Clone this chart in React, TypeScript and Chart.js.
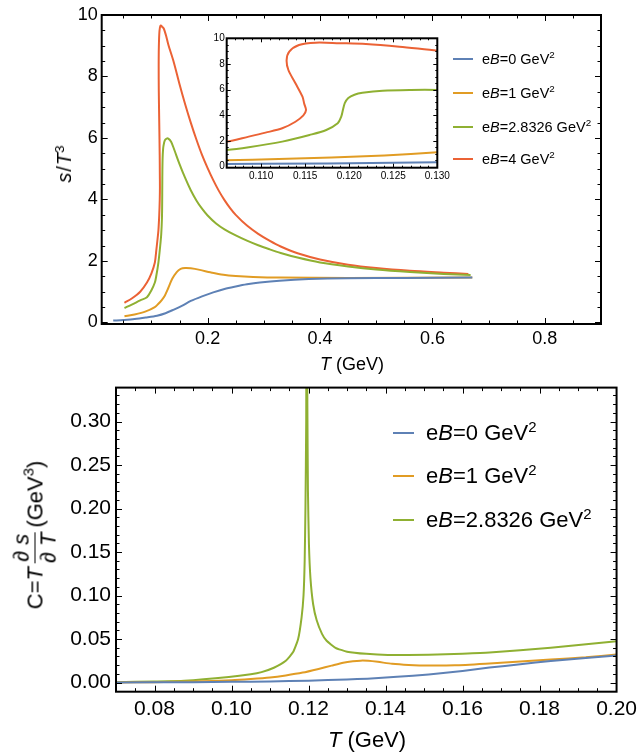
import React, { useEffect, useRef } from 'react';
import { Chart, registerables } from 'chart.js';

Chart.register(...registerables);

const FONT = '"Liberation Sans", Arial, Helvetica, sans-serif';
const BLUE = '#5E81B5';
const ORANGE = '#E19C24';
const GREEN = '#8FB032';
const RED = '#EB6235';

// ---- Top panel: s/T^3 vs T (GeV) ----
const EB0_T = [0.032, 0.05, 0.07, 0.09, 0.11, 0.125, 0.14, 0.155, 0.17, 0.19, 0.21, 0.23, 0.25, 0.27, 0.293, 0.328, 0.38, 0.45, 0.55, 0.671];
const EB0_S = [0.06, 0.08, 0.11, 0.16, 0.22, 0.3, 0.42, 0.55, 0.7, 0.85, 0.98, 1.09, 1.17, 1.24, 1.3, 1.36, 1.41, 1.44, 1.45, 1.46];

const EB1_T = [0.052, 0.07, 0.09, 0.106, 0.112, 0.118, 0.124, 0.13, 0.137, 0.145, 0.152, 0.16, 0.17, 0.186, 0.205, 0.228, 0.25, 0.281, 0.33, 0.45, 0.671];
const EB1_S = [0.2, 0.26, 0.36, 0.5, 0.6, 0.72, 0.88, 1.12, 1.42, 1.64, 1.74, 1.77, 1.76, 1.71, 1.63, 1.55, 1.51, 1.48, 1.46, 1.45, 1.46];

const EB2_T = [0.052, 0.065, 0.08, 0.092, 0.1, 0.1061, 0.1086, 0.1124, 0.1155, 0.1174, 0.1187, 0.1191, 0.1193, 0.1195, 0.1199, 0.1206, 0.1215, 0.1238, 0.127, 0.13, 0.135, 0.14, 0.15, 0.16, 0.17, 0.18, 0.19, 0.2, 0.215, 0.23, 0.25, 0.27, 0.29, 0.31, 0.33, 0.36, 0.4, 0.45, 0.5, 0.56, 0.62, 0.668];
const EB2_S = [0.47, 0.58, 0.72, 0.82, 1.05, 1.3, 1.51, 1.95, 2.47, 2.86, 3.38, 3.9, 4.45, 4.95, 5.35, 5.6, 5.75, 5.92, 5.98, 5.98, 5.88, 5.65, 5.15, 4.7, 4.3, 3.97, 3.7, 3.48, 3.22, 3.03, 2.83, 2.66, 2.51, 2.38, 2.26, 2.11, 1.95, 1.82, 1.72, 1.64, 1.58, 1.54];

const EB4_T = [0.052, 0.065, 0.08, 0.092, 0.1, 0.1061, 0.1086, 0.1105, 0.1124, 0.1139, 0.1148, 0.1151, 0.1149, 0.1147, 0.1139, 0.1131, 0.1129, 0.1132, 0.1143, 0.1162, 0.1189, 0.1219, 0.1257, 0.13, 0.14, 0.15, 0.16, 0.17, 0.18, 0.19, 0.2, 0.21, 0.22, 0.23, 0.24, 0.25, 0.27, 0.29, 0.31, 0.33, 0.36, 0.4, 0.45, 0.5, 0.56, 0.62, 0.664];
const EB4_S = [0.64, 0.78, 1.0, 1.3, 1.6, 1.95, 2.34, 2.65, 2.99, 3.5, 4.0, 4.4, 4.9, 5.45, 6.5, 7.53, 8.3, 8.96, 9.48, 9.66, 9.62, 9.56, 9.35, 9.04, 8.45, 7.75, 7.1, 6.5, 5.95, 5.45, 5.02, 4.63, 4.28, 3.98, 3.72, 3.5, 3.15, 2.88, 2.66, 2.47, 2.25, 2.05, 1.88, 1.77, 1.68, 1.62, 1.58];

// ---- Bottom panel: C = T ds/dT (GeV^3) vs T (GeV) ----
const C0_T = [0.07, 0.09, 0.1, 0.11, 0.12, 0.13, 0.1353, 0.143, 0.1512, 0.16, 0.167, 0.175, 0.1829, 0.192, 0.2];
const C0_V = [0.0001, 0.0005, 0.0008, 0.0013, 0.0022, 0.0035, 0.0045, 0.0066, 0.0093, 0.0133, 0.0172, 0.021, 0.0248, 0.0282, 0.031];

const C1_T = [0.07, 0.08, 0.09, 0.1, 0.105, 0.11, 0.1141, 0.1185, 0.1226, 0.126, 0.129, 0.1315, 0.1335, 0.1355, 0.138, 0.1417, 0.146, 0.1512, 0.158, 0.167, 0.175, 0.1829, 0.192, 0.2];
const C1_V = [0.0002, 0.0005, 0.0012, 0.0026, 0.004, 0.0058, 0.0082, 0.0115, 0.0157, 0.0195, 0.0228, 0.0245, 0.0252, 0.025, 0.0238, 0.0215, 0.0202, 0.0195, 0.0198, 0.022, 0.0242, 0.0265, 0.029, 0.0322];

const C2_T = [0.07, 0.08, 0.0877, 0.0993, 0.105, 0.1078, 0.111, 0.1141, 0.116, 0.1173, 0.1182, 0.1187, 0.119, 0.1192, 0.1194, 0.11955, 0.1197, 0.11985, 0.1201, 0.1205, 0.1212, 0.1221, 0.1235, 0.1247, 0.127, 0.13, 0.135, 0.1406, 0.1512, 0.16, 0.167, 0.1829, 0.2];
const C2_V = [0.0005, 0.0012, 0.002, 0.0063, 0.0095, 0.012, 0.017, 0.025, 0.035, 0.05, 0.075, 0.1, 0.14, 0.2, 0.3, 0.6, 0.32, 0.22, 0.16, 0.12, 0.09, 0.072, 0.056, 0.048, 0.04, 0.0355, 0.033, 0.0318, 0.032, 0.0332, 0.0345, 0.04, 0.0475];

// ---- Tick labels ----
const TOP_X_LABELS = [0.2, 0.4, 0.6, 0.8];
const TOP_Y_LABELS = [0, 2, 4, 6, 8, 10];
const INSET_X_LABELS = [0.11, 0.115, 0.12, 0.125, 0.13];
const INSET_Y_LABELS = [0, 2, 4, 6, 8, 10];
const BOT_X_LABELS = [0.08, 0.1, 0.12, 0.14, 0.16, 0.18, 0.2];
const BOT_Y_LABELS = [0, 0.05, 0.1, 0.15, 0.2, 0.25, 0.3];

const TOP_LEGEND = ['0', '1', '2.8326', '4'];
const BOT_LEGEND = ['0', '1', '2.8326'];

const zip = (xs: number[], ys: number[]) => xs.map((x, i) => ({ x, y: ys[i] }));
const steps = (from: number, to: number, step: number) => {
  const out: number[] = [];
  const n = Math.round((to - from) / step);
  for (let i = 0; i <= n; i++) out.push(+(from + i * step).toFixed(6));
  return out;
};

const frameTicks = {
  id: 'frameTicks',
  beforeDatasetsDraw(chart: any, _a: any, o: any) {
    if (!o || !o.fill) return;
    const { ctx, chartArea: a } = chart;
    ctx.save();
    ctx.fillStyle = o.fill;
    ctx.fillRect(a.left, a.top, a.width, a.height);
    ctx.restore();
  },
  afterDatasetsDraw(chart: any, _a: any, o: any) {
    if (!o) return;
    const { ctx, chartArea: a, scales } = chart;
    const xs = scales.x;
    const ys = scales.y;
    ctx.save();
    ctx.strokeStyle = '#000';
    ctx.lineWidth = 1;
    ctx.beginPath();
    const vt = (vals: number[], len: number) =>
      vals.forEach((v) => {
        const p = Math.round(xs.getPixelForValue(v)) + 0.5;
        if (p < a.left + 1 || p > a.right - 1) return;
        ctx.moveTo(p, a.bottom);
        ctx.lineTo(p, a.bottom - len);
        ctx.moveTo(p, a.top);
        ctx.lineTo(p, a.top + len);
      });
    const ht = (vals: number[], len: number) =>
      vals.forEach((v) => {
        const p = Math.round(ys.getPixelForValue(v)) + 0.5;
        if (p < a.top + 1 || p > a.bottom - 1) return;
        ctx.moveTo(a.left, p);
        ctx.lineTo(a.left + len, p);
        ctx.moveTo(a.right, p);
        ctx.lineTo(a.right - len, p);
      });
    vt(o.xMajor, o.majorLen);
    vt(o.xMinor, o.minorLen);
    ht(o.yMajor, o.majorLen);
    ht(o.yMinor, o.minorLen);
    ctx.stroke();
    ctx.lineWidth = o.frameWidth;
    ctx.strokeRect(a.left, a.top, a.width, a.height);
    ctx.restore();
  },
};

type Spec = {
  left: number; top: number; w: number; h: number;
  datasets: any[];
  xMin: number; xMax: number; yMin: number; yMax: number;
  xLabels: number[]; yLabels: number[]; xMinor: number[]; yMinor: number[];
  xFmt: (v: number) => string; yFmt: (v: number) => string;
  fontSize: number; yWidth: number; xHeight: number;
  padding: { top: number; right: number; left: number; bottom: number };
  xPad: number; yPad: number; majorLen: number; minorLen: number; frameWidth: number; fill?: string;
};

function line(data: { x: number; y: number }[], color: string, tension: number) {
  return {
    data,
    showLine: true,
    borderColor: color,
    backgroundColor: color,
    borderWidth: 2,
    pointRadius: 0,
    pointHoverRadius: 0,
    fill: false,
    tension,
  };
}

function buildConfig(s: Spec): any {
  const tickFont = { family: FONT, size: s.fontSize };
  return {
    type: 'scatter',
    data: { datasets: s.datasets },
    options: {
      animation: false,
      responsive: false,
      devicePixelRatio: 1,
      events: [],
      layout: { padding: s.padding },
      plugins: {
        legend: { display: false },
        tooltip: { enabled: false },
        frameTicks: {
          xMajor: s.xLabels, xMinor: s.xMinor, yMajor: s.yLabels, yMinor: s.yMinor,
          majorLen: s.majorLen, minorLen: s.minorLen, frameWidth: s.frameWidth, fill: s.fill,
        },
      },
      scales: {
        x: {
          type: 'linear', min: s.xMin, max: s.xMax,
          grid: { display: false, drawTicks: false },
          border: { display: false },
          ticks: {
            autoSkip: false, maxRotation: 0, minRotation: 0, padding: s.xPad,
            font: tickFont, color: '#000',
            callback: (v: number) => s.xFmt(v),
          },
          afterBuildTicks: (sc: any) => { sc.ticks = s.xLabels.map((v) => ({ value: v })); },
          afterFit: (sc: any) => { sc.height = s.xHeight; },
        },
        y: {
          type: 'linear', min: s.yMin, max: s.yMax,
          grid: { display: false, drawTicks: false },
          border: { display: false },
          ticks: {
            autoSkip: false, padding: s.yPad,
            font: tickFont, color: '#000',
            callback: (v: number) => s.yFmt(v),
          },
          afterBuildTicks: (sc: any) => { sc.ticks = s.yLabels.map((v) => ({ value: v })); },
          afterFit: (sc: any) => { sc.width = s.yWidth; },
        },
      },
    },
    plugins: [frameTicks],
  };
}

function ChartCanvas({ spec }: { spec: Spec }) {
  const ref = useRef<HTMLCanvasElement>(null);
  useEffect(() => {
    const chart = new Chart(ref.current as HTMLCanvasElement, buildConfig(spec));
    return () => chart.destroy();
  }, []);
  return (
    <canvas
      ref={ref}
      width={spec.w}
      height={spec.h}
      style={{ position: 'absolute', left: spec.left, top: spec.top, width: spec.w, height: spec.h, display: 'block' }}
    />
  );
}

const topData = () => [
  line(zip(EB0_T, EB0_S), BLUE, 0.3),
  line(zip(EB1_T, EB1_S), ORANGE, 0.3),
  line(zip(EB2_T, EB2_S), GREEN, 0.3),
  line(zip(EB4_T, EB4_S), RED, 0.3),
];

const TOP_SPEC: Spec = {
  left: 0, top: 0, w: 642, h: 365,
  datasets: topData(),
  xMin: 0.0115, xMax: 0.9, yMin: -0.05, yMax: 10,
  xLabels: TOP_X_LABELS, yLabels: TOP_Y_LABELS,
  xMinor: steps(0.05, 0.85, 0.05), yMinor: steps(0, 10, 0.5),
  xFmt: (v) => v.toFixed(1), yFmt: (v) => String(Math.round(v)),
  fontSize: 18, yWidth: 101.7, xHeight: 41,
  padding: { top: 15, right: 41, left: 0, bottom: 0 },
  xPad: 4, yPad: 4, majorLen: 6, minorLen: 3.5, frameWidth: 2,
};

const INSET_SPEC: Spec = {
  left: 180, top: 25, w: 290, h: 170,
  datasets: topData(),
  xMin: 0.1061, xMax: 0.13, yMin: -0.08, yMax: 10,
  xLabels: INSET_X_LABELS, yLabels: INSET_Y_LABELS,
  xMinor: steps(0.107, 0.129, 0.001), yMinor: steps(0, 10, 0.5),
  xFmt: (v) => v.toFixed(3), yFmt: (v) => String(Math.round(v)),
  fontSize: 10, yWidth: 46.7, xHeight: 27.3,
  padding: { top: 13.3, right: 32.7, left: 0, bottom: 0 },
  xPad: 3, yPad: 2, majorLen: 4, minorLen: 2, frameWidth: 2, fill: '#fff',
};

const BOT_SPEC: Spec = {
  left: 0, top: 370, w: 642, h: 384,
  datasets: [
    line(zip(C0_T, C0_V), BLUE, 0.2),
    line(zip(C1_T, C1_V), ORANGE, 0.2),
    line(zip(C2_T, C2_V), GREEN, 0.15),
  ],
  xMin: 0.07, xMax: 0.2, yMin: -0.0105, yMax: 0.339,
  xLabels: BOT_X_LABELS, yLabels: BOT_Y_LABELS,
  xMinor: steps(0.07, 0.2, 0.005), yMinor: steps(0, 0.33, 0.01),
  xFmt: (v) => v.toFixed(2), yFmt: (v) => v.toFixed(2),
  fontSize: 21, yWidth: 116, xHeight: 62.3,
  padding: { top: 10, right: 23.7, left: 0, bottom: 0 },
  xPad: 5, yPad: 5, majorLen: 6, minorLen: 3.5, frameWidth: 2,
};

const supStyle: React.CSSProperties = { fontSize: '0.68em', position: 'relative', top: '-0.55em', verticalAlign: 'baseline' };

function Legend({ items, colors, x, ys, lineLen, gap, size, lineH }: {
  items: string[]; colors: string[]; x: number; ys: number[]; lineLen: number; gap: number; size: number; lineH: number;
}) {
  return (
    <>
      {items.map((v, i) => (
        <div
          key={i}
          style={{
            position: 'absolute', left: x, top: ys[i] - 20, height: 40, display: 'flex', alignItems: 'center',
            whiteSpace: 'nowrap', fontFamily: FONT, fontSize: size, color: '#000', lineHeight: 1,
          }}
        >
          <span style={{ display: 'inline-block', width: lineLen, height: lineH, background: colors[i], marginRight: gap }} />
          <span>
            e<i>B</i>={v} GeV<span style={supStyle}>2</span>
          </span>
        </div>
      ))}
    </>
  );
}

export default function App() {
  return (
    <div style={{ position: 'absolute', left: 0, top: 0, width: 642, height: 754, overflow: 'hidden', background: '#fff', fontFamily: FONT }}>
      <ChartCanvas spec={TOP_SPEC} />
      <ChartCanvas spec={INSET_SPEC} />
      <ChartCanvas spec={BOT_SPEC} />

      <Legend items={TOP_LEGEND} colors={[BLUE, ORANGE, GREEN, RED]} x={453} ys={[59, 93, 127, 159]} lineLen={20} gap={9} size={14.5} lineH={2} />
      <Legend items={BOT_LEGEND} colors={[BLUE, ORANGE, GREEN]} x={393} ys={[433, 476, 520]} lineLen={21} gap={12} size={22} lineH={2.5} />

      {/* top axis titles */}
      <div style={{ position: 'absolute', left: 352, top: 364, transform: 'translate(-50%,-50%)', fontSize: 18, whiteSpace: 'nowrap', lineHeight: 1 }}>
        <i>T</i> (GeV)
      </div>
      <div style={{ position: 'absolute', left: 64, top: 164, transform: 'translate(-50%,-50%) rotate(-90deg)', fontSize: 20, whiteSpace: 'nowrap', lineHeight: 1 }}>
        <i>s</i><span style={{ margin: '0 1px' }}>/</span><i>T</i><span style={supStyle}>3</span>
      </div>

      {/* bottom axis titles */}
      <div style={{ position: 'absolute', left: 367, top: 740, transform: 'translate(-50%,-50%)', fontSize: 22, whiteSpace: 'nowrap', lineHeight: 1 }}>
        <i>T</i> (GeV)
      </div>
      <div
        style={{
          position: 'absolute', left: 35, top: 535, transform: 'translate(-50%,-50%) rotate(-90deg)', fontSize: 22,
          whiteSpace: 'nowrap', lineHeight: 1, display: 'flex', alignItems: 'center',
        }}
      >
        <span>C=<i>T</i></span>
        <span style={{ display: 'inline-flex', flexDirection: 'column', alignItems: 'center', margin: '0 5px 0 4px' }}>
          <span style={{ paddingBottom: 2 }}>∂ <i>s</i></span>
          <span style={{ borderTop: '1px solid #000', paddingTop: 2 }}>∂ <i>T</i></span>
        </span>
        <span>(GeV<span style={supStyle}>3</span>)</span>
      </div>
    </div>
  );
}
